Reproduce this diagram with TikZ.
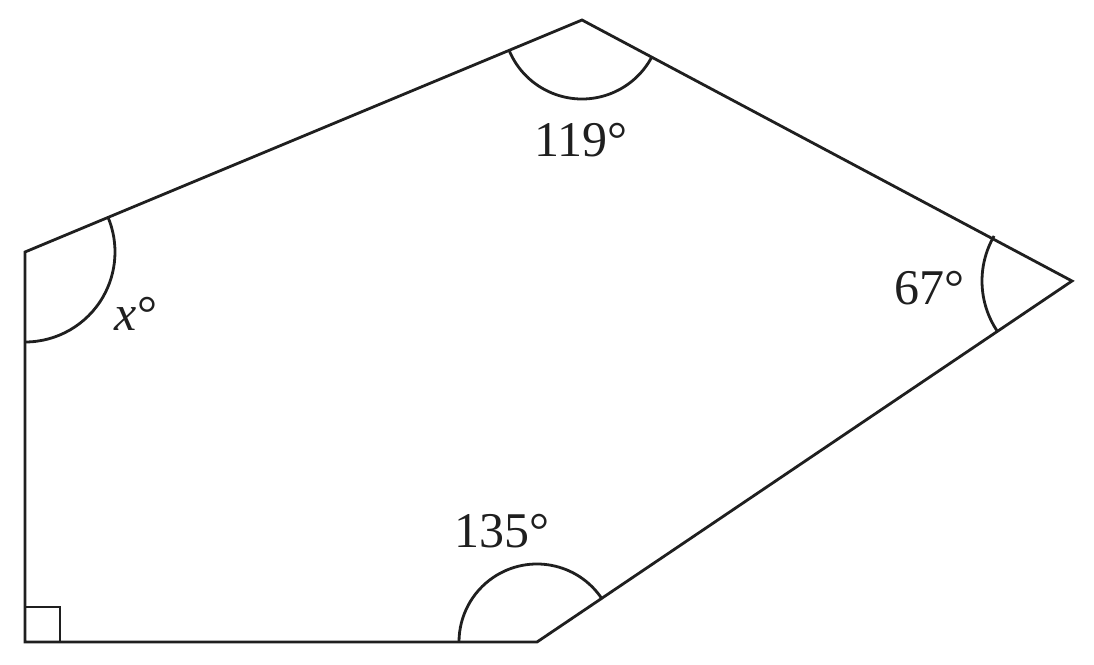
\documentclass[tikz,border=0pt]{standalone}
\usepackage{fontspec}
\setmainfont{Liberation Serif}
\begin{document}
\begin{tikzpicture}[x=1pt,y=-1pt,
  edge/.style={line width=2.8pt,line join=miter,black!88},
  anglearc/.style={line width=2.8pt,black!88},
  lbl/.style={inner sep=0pt,font=\fontsize{50}{60}\selectfont,text=black!88}]
\useasboundingbox (0,0) rectangle (1094,664);
\coordinate (A) at (25,252);
\coordinate (B) at (582,20);
\coordinate (C) at (1072,281);
\coordinate (D) at (537,642);
\coordinate (E) at (25,642);
\draw[edge] (A) -- (B) -- (C) -- (D) -- (E) -- cycle;
% right angle
\coordinate (Q) at (60,607);
\draw[edge] (25,607) -- (Q) -- (60,642);
% arcs (y axis points down, so angles are mirrored)
\draw[anglearc] ([shift={(90:90)}]A) arc[start angle=90,end angle=-22.6,radius=90];
\draw[anglearc] ([shift={(157.4:79)}]B) arc[start angle=157.4,end angle=28,radius=79];
\draw[anglearc] ([shift={(210:90)}]C) arc[start angle=210,end angle=146,radius=90];
\draw[anglearc] ([shift={(-34:78)}]D) arc[start angle=-34,end angle=-180,radius=78];
% labels
\node[lbl] (l1) at (581,140) {119°};
\node[lbl] (l2) at (929,288) {67°};
\node[lbl] (l3) at (136,314) {\textit{x}°};
\node[lbl] (l4) at (502,531) {135°};
\end{tikzpicture}
\end{document}
